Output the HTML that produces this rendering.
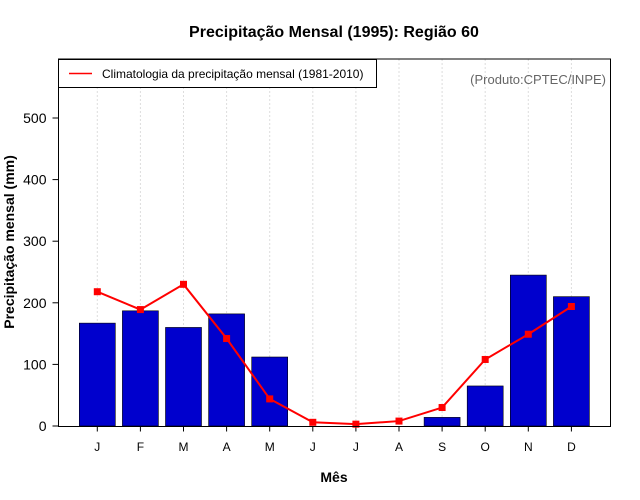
<!DOCTYPE html>
<html><head><meta charset="utf-8"><style>body{margin:0;background:#fff}svg{display:block;font-family:"Liberation Sans",sans-serif}</style></head>
<body>
<svg id="c" width="640" height="500" xmlns="http://www.w3.org/2000/svg"></svg>
<script>
const months=["J","F","M","A","M","J","J","A","S","O","N","D"];
const observed=[167,187,160,182,112,0,0,0,14,65,245,210];
const climatology=[218,189,230,142,44,6,3,8,30,108,149,194];
const yTicks=[0,100,200,300,400,500];
const svg=document.getElementById('c');const NS="http://www.w3.org/2000/svg";
function mk(t,a,p,txt){const e=document.createElementNS(NS,t);for(const k in a)e.setAttribute(k,a[k]);if(txt!=null)e.textContent=txt;(p||svg).appendChild(e);return e;}
const L=58.5,R=610.5,T=59,B=426.5;
const y=v=>426-v*0.616;
const x=i=>97.3+i*43.1;
let e;
for(let i=0;i<12;i++){e=mk('line',{x1:x(i),x2:x(i),y1:T,y2:B,stroke:'#ddd','stroke-dasharray':'2,2'});
}
for(let i=0;i<12;i++){e=mk('rect',{x:x(i)-18,y:y(observed[i]),width:36,height:observed[i]*0.616,fill:'#0000cd',stroke:'#000','stroke-width':0.6});

e=mk('line',{x1:x(i),x2:x(i),y1:B,y2:B+5,stroke:'#000'});
e=mk('text',{x:x(i),y:451,'text-anchor':'middle','font-size':12},null,months[i]);}
e=mk('polyline',{points:climatology.map((v,i)=>x(i)+','+y(v)).join(' '),fill:'none',stroke:'#f00','stroke-width':2});

climatology.forEach((v,i)=>{e=mk('rect',{x:x(i)-3.5,y:y(v)-3.5,width:7,height:7,fill:'#f00'});});
yTicks.forEach(v=>{e=mk('line',{x1:L-6,x2:L,y1:y(v),y2:y(v),stroke:'#000'});
e=mk('text',{x:L-12,y:y(v)+5,'text-anchor':'end','font-size':14},null,String(v));});
e=mk('rect',{x:L,y:T,width:R-L,height:B-T,fill:'none',stroke:'#000'});
const lg=mk('g',{});
mk('rect',{x:58.5,y:59.5,width:318,height:28,fill:'#fff',stroke:'#000'},lg);
mk('line',{x1:69,x2:92,y1:73.5,y2:73.5,stroke:'#f00','stroke-width':1.5},lg);
mk('text',{x:102,y:78,'font-size':12},lg,'Climatologia da precipitação mensal (1981-2010)');
e=mk('text',{x:606,y:84,'text-anchor':'end','font-size':13,fill:'#666'},null,'(Produto:CPTEC/INPE)');
e=mk('text',{x:334,y:37,'text-anchor':'middle','font-size':16,'font-weight':'bold'},null,'Precipitação Mensal (1995): Região 60');
e=mk('text',{x:334,y:482,'text-anchor':'middle','font-size':14,'font-weight':'bold'},null,'Mês');
e=mk('text',{x:14,y:242,'text-anchor':'middle','font-size':14,'font-weight':'bold',transform:'rotate(-90 14 242)'},null,'Precipitação mensal (mm)');
</script>
</body></html>
